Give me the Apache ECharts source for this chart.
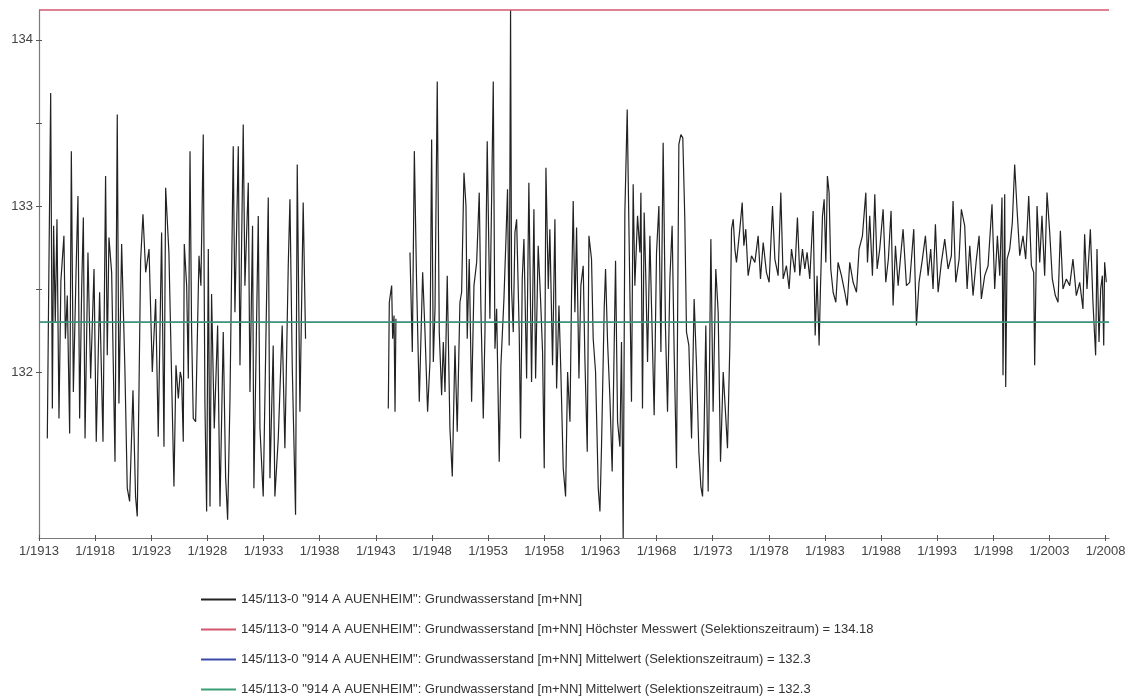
<!DOCTYPE html>
<html>
<head>
<meta charset="utf-8">
<script src="https://cdn.jsdelivr.net/npm/echarts@6/dist/echarts.min.js"></script>
<style>
html,body{margin:0;padding:0;background:#fff;}
#chart{width:1133px;height:698px;}
</style>
</head>
<body>
<div id="chart"></div>
<script>
// ---- data ----
const earlyYears = [1913.74,1913.85,1914.04,1914.19,1914.30,1914.45,1914.60,1914.78,1914.95,1915.22,1915.35,1915.52,1915.73,1915.88,1916.06,1916.30,1916.47,1916.62,1916.80,1916.95,1917.10,1917.36,1917.60,1917.90,1918.10,1918.40,1918.70,1918.93,1919.08,1919.23,1919.47,1919.77,1919.97,1920.12,1920.36,1920.65,1920.86,1921.07,1921.37,1921.60,1921.75,1921.90,1922.05,1922.26,1922.50,1922.80,1923.09,1923.39,1923.62,1923.92,1924.13,1924.28,1924.57,1925.02,1925.20,1925.41,1925.58,1925.70,1925.85,1925.94,1926.15,1926.30,1926.45,1926.59,1926.74,1926.95,1927.25,1927.42,1927.63,1927.78,1927.93,1928.08,1928.23,1928.37,1928.61,1928.91,1929.12,1929.41,1929.62,1929.80,1930.01,1930.30,1930.45,1930.75,1930.90,1931.19,1931.34,1931.64,1931.79,1932.02,1932.14,1932.53,1932.68,1932.97,1933.18,1933.42,1933.57,1933.86,1934.01,1934.31,1934.66,1934.90,1935.20,1935.35,1935.56,1935.85,1936.00,1936.24,1936.53,1936.74];
const earlyLevels = [131.60,132.40,133.68,131.78,132.88,132.30,132.92,131.72,132.55,132.82,132.20,132.46,131.63,133.33,131.88,132.60,133.06,131.72,132.50,132.93,131.60,132.72,131.96,132.62,131.58,132.48,131.58,133.18,132.10,132.81,132.60,131.46,133.55,131.81,132.77,132.02,131.30,131.22,131.89,131.25,131.13,131.86,132.67,132.95,132.60,132.74,132.00,132.44,131.61,132.84,131.55,133.11,132.72,131.31,132.04,131.84,132.00,131.96,131.58,132.77,132.52,131.96,133.33,132.26,131.72,131.70,132.70,132.52,133.43,131.80,131.16,132.74,131.19,132.47,131.66,132.28,131.19,132.24,131.37,131.11,131.84,133.36,132.36,133.36,132.04,133.49,132.52,133.14,131.88,132.88,131.30,132.94,131.66,131.25,132.08,133.05,131.36,132.16,131.25,131.60,132.28,131.54,132.64,133.04,132.02,131.14,133.25,131.76,133.02,132.20];

const warYears = [1944.11,1944.20,1944.41,1944.50,1944.62,1944.71,1944.79];
const warLevels = [131.78,132.42,132.52,132.20,132.34,131.76,132.32];

const midYears = [1946.04,1946.25,1946.43,1946.63,1946.87,1947.17,1947.38,1947.61,1947.82,1947.97,1948.12,1948.27,1948.47,1948.65,1948.86,1949.01,1949.16,1949.36,1949.60,1949.81,1950.05,1950.25,1950.49,1950.64,1950.85,1951.03,1951.14,1951.32,1951.53,1951.74,1951.98,1952.21,1952.36,1952.57,1952.72,1952.92,1953.16,1953.46,1953.61,1953.76,1953.99,1954.14,1954.41,1954.59,1954.73,1954.88,1955.00,1955.09,1955.24,1955.39,1955.54,1955.77,1955.89,1956.04,1956.19,1956.43,1956.63,1956.87,1957.08,1957.23,1957.46,1957.67,1957.85,1958.00,1958.15,1958.36,1958.50,1958.74,1958.95,1959.10,1959.31,1959.48,1959.69,1959.90,1960.08,1960.29,1960.43,1960.58,1960.73,1960.88,1961.09,1961.26,1961.47,1961.62,1961.83,1961.98,1962.21,1962.36,1962.57,1962.81,1962.96,1963.10,1963.34,1963.46,1963.64,1963.85,1964.05,1964.23,1964.35,1964.53,1964.74,1964.88,1965.03,1965.18,1965.39,1965.54,1965.77,1965.92,1966.07,1966.31,1966.52,1966.61,1966.75,1966.90,1967.05,1967.20,1967.41,1967.56,1967.79,1968.00,1968.21,1968.39,1968.59,1968.80,1968.98,1969.19,1969.39,1969.57,1969.78,1969.99,1970.17,1970.34,1970.52,1970.67,1970.88,1971.12,1971.35,1971.56,1971.77,1971.95,1972.10,1972.24,1972.39,1972.60,1972.84,1973.04,1973.28,1973.49,1973.70,1973.94,1974.14,1974.32,1974.53,1974.68];
const midLevels = [132.72,132.12,133.33,132.54,131.82,132.60,132.24,131.76,132.06,133.40,132.06,132.38,133.75,132.24,131.86,132.18,131.88,132.58,131.66,131.37,132.16,131.64,132.42,132.48,133.20,133.00,132.20,132.68,131.82,132.52,132.66,133.08,132.38,131.72,132.24,133.39,132.32,133.75,132.14,132.38,131.46,132.04,132.44,132.80,133.10,132.16,134.18,132.50,132.24,132.84,132.92,132.24,131.60,132.56,132.80,131.96,133.14,131.94,132.98,131.96,132.76,132.44,132.12,131.42,133.23,132.50,132.86,132.04,132.92,131.90,132.40,132.00,131.42,131.25,132.00,131.70,132.46,133.03,132.36,132.87,131.96,132.52,132.64,132.08,131.52,132.82,132.68,132.20,132.00,131.30,131.16,131.55,132.38,132.62,132.18,131.84,131.40,132.16,132.67,131.70,131.55,132.18,131.00,132.96,133.58,132.88,131.82,133.13,132.52,132.94,132.72,133.08,131.78,132.96,132.56,132.06,132.82,132.38,131.74,132.72,133.00,132.12,133.38,132.26,131.76,132.56,132.88,132.12,131.42,133.37,133.43,133.41,132.92,132.24,132.16,131.60,132.44,132.04,131.52,131.31,131.25,131.66,132.28,131.28,132.80,131.76,132.62,132.36,131.46,132.00,131.76,131.54,132.16,132.86];

const lateYears = [1974.83,1974.98,1975.12,1975.42,1975.63,1975.78,1975.95,1976.16,1976.46,1976.76,1977.05,1977.26,1977.50,1977.79,1978.03,1978.33,1978.54,1978.83,1979.07,1979.28,1979.57,1979.81,1980.02,1980.32,1980.55,1980.76,1981.00,1981.21,1981.41,1981.65,1981.95,1982.13,1982.30,1982.48,1982.60,1982.78,1982.93,1983.08,1983.22,1983.37,1983.52,1983.73,1983.97,1984.17,1984.47,1984.77,1984.98,1985.21,1985.51,1985.81,1986.04,1986.34,1986.64,1986.79,1986.99,1987.23,1987.44,1987.65,1987.88,1988.18,1988.42,1988.65,1988.89,1989.07,1989.28,1989.52,1989.72,1989.96,1990.26,1990.55,1990.91,1991.15,1991.38,1991.68,1991.95,1992.19,1992.42,1992.63,1992.84,1993.08,1993.37,1993.67,1993.97,1994.26,1994.41,1994.65,1994.95,1995.15,1995.45,1995.66,1995.90,1996.19,1996.49,1996.73,1996.93,1997.23,1997.53,1997.88,1998.12,1998.36,1998.57,1998.77,1998.86,1999.01,1999.10,1999.22,1999.46,1999.69,1999.90,2000.11,2000.35,2000.64,2000.88,2001.15,2001.39,2001.59,2001.68,2001.89,2002.13,2002.33,2002.57,2002.78,2003.02,2003.25,2003.52,2003.76,2003.97,2004.20,2004.50,2004.80,2005.09,2005.39,2005.69,2005.98,2006.13,2006.34,2006.64,2006.87,2007.02,2007.11,2007.23,2007.41,2007.56,2007.71,2007.83,2007.91,2008.06];
const lateLevels = [132.92,132.74,132.66,132.86,133.02,132.76,132.86,132.58,132.70,132.66,132.82,132.56,132.78,132.60,132.54,133.00,132.68,132.58,133.08,132.56,132.64,132.50,132.74,132.60,132.93,132.58,132.74,132.62,132.72,132.56,132.97,132.22,132.58,132.16,132.50,132.94,133.04,132.66,133.18,133.08,132.62,132.48,132.42,132.66,132.58,132.48,132.40,132.66,132.54,132.48,132.74,132.82,133.08,132.66,132.94,132.58,133.07,132.62,132.74,132.98,132.54,132.68,132.97,132.40,132.76,132.52,132.68,132.86,132.52,132.54,132.86,132.28,132.54,132.68,132.82,132.58,132.74,132.50,132.89,132.48,132.66,132.80,132.62,132.70,133.03,132.54,132.68,132.98,132.88,132.50,132.76,132.46,132.68,132.82,132.44,132.58,132.64,133.01,132.50,132.82,132.58,133.05,131.98,133.07,131.91,132.68,132.74,132.90,133.25,132.98,132.70,132.82,132.68,133.06,132.64,132.60,132.04,133.00,132.66,132.94,132.58,133.08,132.84,132.56,132.46,132.42,132.85,132.50,132.56,132.52,132.68,132.46,132.54,132.38,132.83,132.50,132.86,132.42,132.22,132.10,132.74,132.18,132.50,132.58,132.16,132.66,132.54];

const highestValue = 134.18;   // Höchster Messwert
const meanValue = 132.3;       // Mittelwert
const xTickYears = [1913,1918,1923,1928,1933,1938,1943,1948,1953,1958,1963,1968,1973,1978,1983,1988,1993,1998,2003,2008];
const yLabelValues = [132,133,134];
const yTickValues = [132,132.5,133,133.5,134];

const base = '145/113-0 "914 A AUENHEIM": Grundwasserstand [m+NN]';
const names = [
  base,
  base + ' Höchster Messwert (Selektionszeitraum) = ' + highestValue,
  base + ' Mittelwert (Selektionszeitraum) = ' + meanValue,
  base + ' Mittelwert (Selektionszeitraum) = ' + meanValue + ' '
];
const colors = ['#222222', '#d2566c', '#3b4aa8', '#3a9e74'];

// ---- build ----
function pairs(ys, vs){ return ys.map((y,i)=>[y, vs[i]]); }
const levelData = [].concat(
  pairs(earlyYears, earlyLevels), [[1940, null]],
  pairs(warYears, warLevels), [[1945.5, null]],
  pairs(midYears, midLevels),
  pairs(lateYears, lateLevels)
);
const xMin = 1913, xMax = 2008.3, yMin = 131, yMax = highestValue;

const font = "'Liberation Sans', Arial, sans-serif";
const axisColor = '#7a7a7a';

function hline(idx, value){
  return {name:names[idx], type:'line', data:[[xMin,value],[xMax,value]], symbol:'none', clip:false,
    color:colors[idx], itemStyle:{color:colors[idx], opacity:0},
    lineStyle:{color:colors[idx], width:1.5}, z:3+idx};
}

const chart = echarts.init(document.getElementById('chart'), null, {renderer:'canvas'});
chart.setOption({
  backgroundColor:'#fff',
  animation:false,
  grid:{left:39, right:24, top:10, bottom:160, containLabel:false},
  xAxis:[{
    type:'value', min:xMin, max:xMax, position:'bottom',
    axisLine:{show:true, lineStyle:{color:axisColor, width:1.2}},
    axisTick:{show:true, customValues:xTickYears, length:3, lineStyle:{color:'#555'}},
    axisLabel:{customValues:xTickYears, formatter:v=>'1/'+v, color:'#444', fontSize:13, fontFamily:font, margin:7},
    splitLine:{show:false}
  },{
    type:'value', min:xMin, max:xMax, position:'bottom',
    axisLine:{show:false},
    axisTick:{show:true, inside:true, customValues:xTickYears, length:3, lineStyle:{color:'#555'}},
    axisLabel:{show:false}, splitLine:{show:false}
  }],
  yAxis:[{
    type:'value', min:yMin, max:yMax, position:'left',
    axisLine:{show:true, lineStyle:{color:axisColor, width:1.2}},
    axisTick:{show:true, customValues:yTickValues, length:3, lineStyle:{color:'#555'}},
    axisLabel:{customValues:yLabelValues, color:'#444', fontSize:13, fontFamily:font, margin:6},
    splitLine:{show:false}
  },{
    type:'value', min:yMin, max:yMax, position:'left',
    axisLine:{show:false},
    axisTick:{show:true, inside:true, customValues:yTickValues, length:3, lineStyle:{color:'#555'}},
    axisLabel:{show:false}, splitLine:{show:false}
  }],
  legend:{
    orient:'vertical', left:195, top:588, height:130, itemWidth:35, itemHeight:14, itemGap:17,
    itemStyle:{opacity:0},
    textStyle:{color:'#333', fontSize:13, fontFamily:font},
    data:names
  },
  series:[
    {name:names[0], type:'line', data:levelData, symbol:'none', connectNulls:false,
     color:colors[0], itemStyle:{color:colors[0], opacity:0},
     lineStyle:{color:colors[0], width:1.2}, z:2},
    hline(1, highestValue),
    hline(2, meanValue),
    hline(3, meanValue)
  ]
});
</script>
</body>
</html>
